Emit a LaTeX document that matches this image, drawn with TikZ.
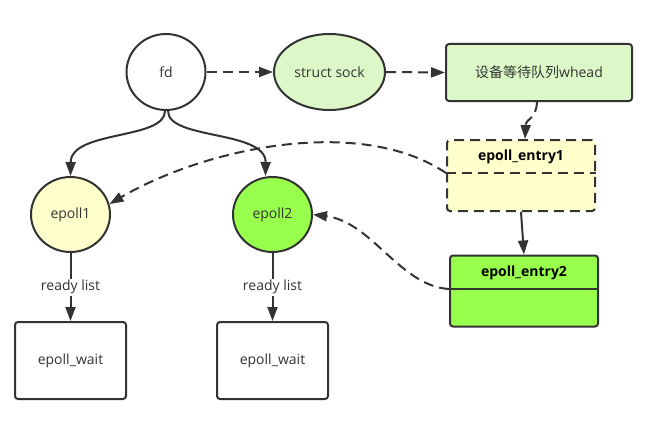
\documentclass[tikz,border=0pt]{standalone}
\usepackage{fontspec}
\setmainfont{Open Sans}
\newfontfamily\cjk{Noto Sans CJK SC}
\usetikzlibrary{shapes.geometric,arrows.meta}
\definecolor{ln}{RGB}{51,51,51}
\definecolor{txt}{RGB}{51,51,51}
\definecolor{lgreen}{RGB}{221,248,200}
\definecolor{lyellow}{RGB}{255,255,204}
\definecolor{bgreen}{RGB}{153,255,77}
\tikzset{
  base/.style={draw=ln, line width=2pt, text=txt, font=\fontsize{14}{16}\selectfont, inner sep=0pt},
  oval/.style={base, ellipse, minimum width=79pt, minimum height=76pt},
  box/.style={base, rectangle, rounded corners=3pt},
  entrybox/.style={box, minimum width=148pt, minimum height=71pt},
  title/.style={font=\bfseries\fontsize{14}{16}\selectfont, text=black, inner sep=0pt},
  conn/.style={draw=ln, line width=2pt, -{Triangle[length=14pt,width=10pt]}},
  dashconn/.style={conn, dash pattern=on 10pt off 6pt},
  lab/.style={fill=white, text=txt, font=\fontsize{14}{16}\selectfont, inner sep=1.5pt}
}
\begin{document}
\begin{tikzpicture}[x=1pt,y=-1pt]
\useasboundingbox[fill=white] (0,0) rectangle (648,428);
% nodes
\node[oval, fill=white] (fd) at (166,72) {fd};
\node[oval, fill=lgreen, minimum width=111pt] (sock) at (329.5,72) {struct sock};
\node[box, fill=lgreen, minimum width=186pt, minimum height=57pt] (whead) at (539,72.5) {{\cjk 设备等待队列}whead};
\node[entrybox, fill=lyellow, dash pattern=on 10pt off 6pt] (e1) at (521,175.5) {};
\node[title] (e1t) at (521,157) {epoll\_entry1};
\coordinate (e1dl) at (e1.west |- 0,173);
\coordinate (e1dr) at (e1.east |- 0,173);
\draw[ln, line width=2pt, dash pattern=on 10pt off 6pt] (e1dl) -- (e1dr);
\node[entrybox, fill=bgreen] (e2) at (524,291) {};
\node[title] (e2t) at (524,272.5) {epoll\_entry2};
\coordinate (e2dl) at (e2.west |- 0,289);
\coordinate (e2dr) at (e2.east |- 0,289);
\draw[ln, line width=2pt] (e2dl) -- (e2dr);
\node[oval, fill=lyellow, minimum height=75pt] (ep1) at (70.5,214.5) {epoll1};
\node[oval, fill=bgreen, minimum height=75pt] (ep2) at (272.5,214.5) {epoll2};
\node[box, fill=white, minimum width=111pt, minimum height=77pt] (w1) at (70.5,360.5) {epoll\_wait};
\node[box, fill=white, minimum width=111pt, minimum height=77pt] (w2) at (272.5,360.5) {epoll\_wait};
% connectors
\draw[dashconn] (fd.east) -- (sock.west);
\draw[dashconn] (sock.east) -- (whead.west);
\draw[dashconn] ([xshift=-2pt]whead.south) .. controls (536,120) and (526,118) .. ([xshift=4pt]e1.north);
\draw[conn] ([xshift=-1pt]fd.south) .. controls (165,140) and (71,130) .. (ep1.north);
\draw[conn] ([xshift=2pt]fd.south) .. controls (168,140) and (266,130) .. ([xshift=-7pt]ep2.north);
\draw[dashconn] (e1dl) .. controls (360,115) and (205,148) .. (ep1.15);
\draw[dashconn] (e2dl) .. controls (400,286) and (372,222) .. (ep2.east);
\draw[conn] (e1.south) -- (e2.north);
\draw[conn] (ep1.south) -- node[lab] (rl1) {ready list} (w1.north);
\draw[conn] (ep2.south) -- node[lab] (rl2) {ready list} (w2.north);
\end{tikzpicture}
\end{document}
